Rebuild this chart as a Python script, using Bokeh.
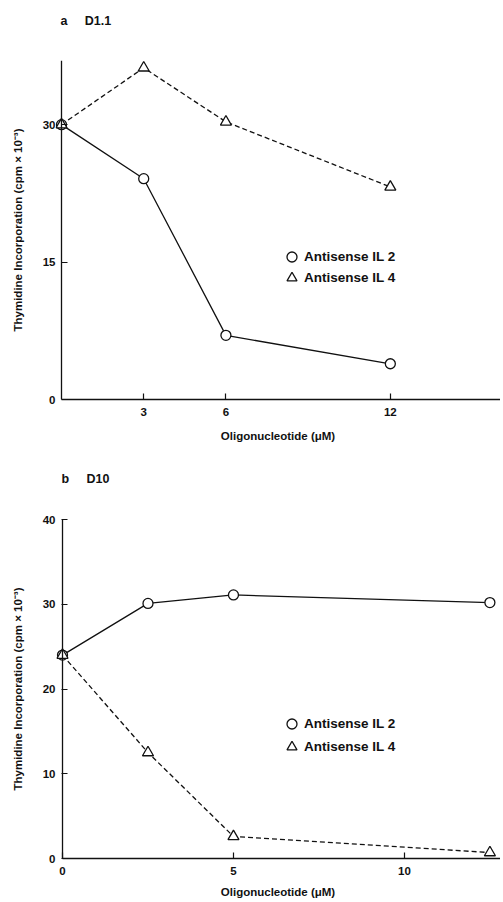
from bokeh.plotting import figure
from bokeh.models import Range1d, FixedTicker, Legend, LegendItem, Span, Title
from bokeh.layouts import column
from bokeh.embed import file_html
from bokeh.resources import INLINE

# ---------------- data ----------------
conc_a = [0, 3, 6, 12]
il2_a = [30.0, 24.1, 7.0, 3.9]
il4_a = [30.0, 36.2, 30.3, 23.2]
xticks_a = [3, 6, 12]
yticks_a = [0, 15, 30]

conc_b = [0, 2.5, 5, 12.5]
il2_b = [24.0, 30.1, 31.1, 30.2]
il4_b = [24.0, 12.5, 2.6, 0.7]
xticks_b = [0, 5, 10]
yticks_b = [0, 10, 20, 30, 40]

series_names = ["Antisense IL 2", "Antisense IL 4"]
panel_letters = ["a", "b"]
panel_names = ["D1.1", "D10"]
x_title = "Oligonucleotide (\u03bcM)"
y_title = "Thymidine Incorporation (cpm \u00d7 10\u207b\u00b3)"

FONT = "Liberation Sans"
INK = "#111111"


def make_panel(conc, il2, il4, xticks, yticks, xr, yr, height, top, bottom,
               title_text, title_offset, spacer_standoff, legend_ys,
               xlabel_standoff):
    p = figure(width=500, height=height, x_range=Range1d(*xr), y_range=Range1d(*yr),
               output_backend="svg", toolbar_location=None,
               min_border_left=55, min_border_right=0,
               min_border_top=top, min_border_bottom=bottom)
    p.outline_line_color = None
    p.xgrid.visible = False
    p.ygrid.visible = False
    p.background_fill_color = "white"
    p.border_fill_color = "white"

    # blank spacer between frame and panel title (pushes the title upward)
    p.add_layout(Title(text="\u00a0", text_font=FONT, text_font_size="12.5px",
                       standoff=spacer_standoff), "above")

    p.title.text = title_text
    p.title.align = "left"
    p.title.vertical_align = "top"
    p.title.offset = title_offset
    p.title.standoff = 0
    p.title.text_font = FONT
    p.title.text_font_style = "bold"
    p.title.text_font_size = "12.5px"
    p.title.text_color = INK

    for ax in (p.xaxis[0], p.yaxis[0]):
        ax.axis_line_color = INK
        ax.axis_line_width = 1.3
        ax.major_tick_line_color = INK
        ax.major_tick_line_width = 1.2
        ax.minor_tick_line_color = None
        ax.major_label_text_font = FONT
        ax.major_label_text_font_style = "bold"
        ax.major_label_text_font_size = "11.5px"
        ax.major_label_text_color = INK
        ax.axis_label_text_font = FONT
        ax.axis_label_text_font_style = "bold"
        ax.axis_label_text_font_size = "11.5px"
        ax.axis_label_text_color = INK

    # x axis: at frame bottom, starting at x = 0
    p.xaxis.ticker = FixedTicker(ticks=xticks)
    p.xaxis.bounds = (0, xr[1])
    p.xaxis.major_tick_in = 6
    p.xaxis.major_tick_out = 0
    p.xaxis.major_label_standoff = 8
    p.xaxis.axis_label = x_title
    p.xaxis.axis_label_standoff = xlabel_standoff

    # y axis: frame starts a little left of x = 0 so markers at x = 0 are not cut;
    # the visible axis line is drawn at x = 0, ticks shifted to meet it
    p.yaxis.ticker = FixedTicker(ticks=yticks)
    p.yaxis.axis_line_color = None
    p.yaxis.major_tick_in = 12
    p.yaxis.major_tick_out = -6
    p.yaxis.major_label_standoff = 0
    p.yaxis.axis_label = y_title
    p.yaxis.axis_label_standoff = 16
    p.add_layout(Span(location=0, dimension="height", line_color=INK, line_width=1.3))

    p.line(conc, il2, line_color=INK, line_width=1.3)
    p.line(conc, il4, line_color=INK, line_width=1.3, line_dash="5 3")
    r2 = p.scatter(conc, il2, marker="circle", size=10, fill_color="white",
                   line_color=INK, line_width=1.3)
    r4 = p.scatter(conc, il4, marker="triangle", size=11, fill_color="white",
                   line_color=INK, line_width=1.3)

    for name, rend, ly in ((series_names[0], r2, legend_ys[0]),
                           (series_names[1], r4, legend_ys[1])):
        legend = Legend(items=[LegendItem(label=name, renderers=[rend])],
                        location=(224, ly), orientation="vertical",
                        glyph_width=25, glyph_height=25, label_height=13,
                        label_standoff=0, spacing=0, padding=0, margin=0,
                        border_line_color=None, background_fill_alpha=0,
                        label_text_font=FONT, label_text_font_style="bold",
                        label_text_font_size="13.5px", label_text_color=INK)
        p.add_layout(legend, "center")
    return p


GAP = "\u00a0" * 5
pa = make_panel(conc_a, il2_a, il4_a, xticks_a, yticks_a,
                (-0.219, 16.02), (0, 37), 450, 60, 51,
                panel_letters[0] + GAP + panel_names[0], 5, 15,
                (130, 109), 11)
pb = make_panel(conc_b, il2_b, il4_b, xticks_b, yticks_b,
                (-0.205, 12.81), (0, 40), 451, 69, 43,
                panel_letters[1] + GAP + panel_names[1], 6, 16,
                (122, 99), 8)

layout = column(pa, pb, spacing=0)
open("out.html", "w").write(file_html(layout, INLINE))
